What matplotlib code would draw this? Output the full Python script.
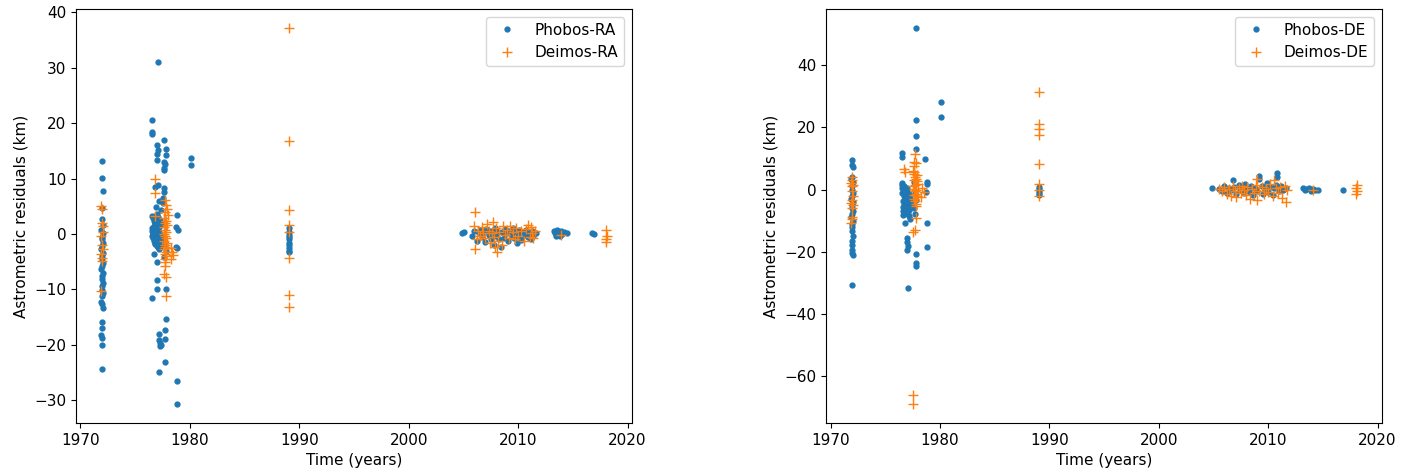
import matplotlib
matplotlib.use('Agg')
import matplotlib.pyplot as plt

# Phobos residuals in right ascension
t_pho_ra = [
    1971.95, 1972.0, 1972.05, 1971.95, 1972.0, 1972.1, 1971.9, 1972.05, 1972.0, 1971.95,
    1972.1, 1972.0, 1971.9, 1972.05, 1972.0, 1971.95, 1972.1, 1972.0, 1971.9, 1972.05,
    1972.0, 1971.95, 1972.1, 1972.0, 1971.95, 1972.05, 1972.0, 1971.9, 1972.0, 1972.05,
    1971.95, 1972.0, 1971.9, 1972.0, 1972.0, 1972.0,
    1977.1, 1976.5, 1976.5, 1976.55, 1977.65, 1977.0, 1977.05, 1977.0, 1977.0, 1977.8,
    1977.8, 1977.6, 1977.75, 1977.6, 1977.65, 1980.1, 1980.1, 1977.1, 1976.8, 1977.6,
    1977.6, 1977.55, 1977.2, 1977.5, 1976.9, 1977.4, 1977.0,
    1976.5, 1976.6, 1976.7, 1976.8, 1976.9, 1977.0, 1977.1, 1977.2, 1977.3, 1976.55,
    1976.65, 1976.75, 1976.85, 1976.95, 1977.05, 1977.15, 1977.25, 1977.35, 1976.6, 1976.7,
    1976.8, 1976.9, 1977.0, 1977.1, 1977.2, 1976.5, 1976.75, 1976.95, 1977.15, 1977.3,
    1977.6, 1977.7, 1977.8, 1977.65, 1977.75,
    1976.55, 1976.65, 1976.75, 1976.85, 1976.95, 1977.05, 1977.15, 1977.25, 1976.6, 1976.7,
    1976.8, 1976.9, 1977.0, 1977.1, 1977.2, 1977.3,
    1978.8, 1978.75, 1978.9, 1978.7, 1978.8, 1976.7, 1977.0, 1977.0, 1977.0, 1976.5,
    1977.8, 1977.8, 1977.7, 1977.2, 1977.2, 1977.3, 1977.35, 1977.25, 1977.7, 1977.7,
    1977.2, 1978.8, 1978.8,
    1989.1, 1989.1, 1989.1, 1989.1, 1989.1, 1989.1, 1989.1, 1989.1, 1989.1, 1989.1,
    2004.9, 2005.1, 2005.8, 2006.0, 2006.2, 2006.4, 2006.5, 2006.7, 2006.9, 2007.0,
    2007.1, 2007.3, 2007.4, 2007.5, 2007.7, 2007.8, 2007.9, 2008.0, 2008.1, 2008.3,
    2008.4, 2008.5, 2008.7, 2008.8, 2009.0, 2009.1, 2009.2, 2009.4, 2009.5, 2009.6,
    2009.8, 2009.9, 2010.0, 2010.1, 2010.2, 2010.3, 2010.4, 2010.6, 2010.7, 2010.9,
    2011.0, 2011.2, 2011.3, 2011.4, 2011.6, 2013.3, 2013.4, 2013.5, 2013.6, 2013.7,
    2013.8, 2013.9, 2014.0, 2014.2, 2014.5, 2016.8, 2016.9,
]
r_pho_ra = [
    13.1, 10.1, 7.8, 4.6, 2.7, 1.6, 0.7, 0.2, -0.5, -1.0,
    -1.7, -2.2, -2.8, -3.5, -4.0, -4.6, -5.3, -5.8, -6.3, -7.0,
    -7.6, -8.2, -8.9, -9.4, -10.1, -10.6, -11.2, -12.2, -12.7, -13.3,
    -15.8, -16.9, -18.2, -18.7, -20.1, -24.3,
    31.1, 20.5, 18.4, 18.1, 17.0, 16.0, 15.1, 14.4, 13.3, 15.3,
    14.2, 12.9, 12.7, 11.5, 11.9, 13.7, 12.5, 8.8, 8.5, 8.3,
    7.5, 6.5, 6.0, 5.5, 4.8, 4.3, 3.6,
    3.2, 2.8, 2.4, 2.0, 1.6, 1.2, 0.8, 0.4, 0.0, -0.4,
    -0.8, -1.2, -1.6, -2.0, -2.4, -2.7, 2.6, 1.8, 1.0, 0.2,
    -0.6, -1.4, -2.2, 3.0, 1.4, 0.6, -0.2, -1.0, -1.8, 2.2,
    -0.5, -1.5, -3.0, -4.2, -2.0,
    1.0, 0.2, -0.6, 2.2, 0.6, -1.2, 1.8, -0.9, 0.0, 1.4,
    -1.8, 2.6, 0.9, -0.3, 1.3, -2.4,
    3.4, 1.3, 0.7, -2.3, -2.6, -3.7, -5.1, -8.3, -9.9, -11.5,
    -9.9, -15.4, -17.3, -18.1, -19.1, -19.6, -20.0, -20.3, -18.9, -23.1,
    -24.9, -26.6, -30.7,
    1.0, 0.3, -0.2, -0.6, -1.0, -1.6, -2.0, -2.5, -3.0, -3.3,
    0.2, 0.4, -0.3, 0.5, -1.2, 0.1, 0.8, -0.6, 0.3, -1.5,
    0.9, -0.2, 0.6, -0.9, 0.2, -2.0, 1.1, -0.4, 0.5, -1.0,
    -2.3, 0.3, -0.7, 0.9, 0.1, -1.3, 0.6, -0.3, 1.0, -0.8,
    0.4, -1.7, 0.0, 0.7, -0.5, -1.1, 0.3, -0.2, 0.8, -0.6,
    0.2, -0.9, 0.5, -0.3, 0.1, 0.6, 0.1, -0.3, 0.8, 0.3,
    -0.4, 0.5, 0.0, 0.4, 0.2, 0.1, 0.0,
]

# Deimos residuals in right ascension
t_dei_ra = [
    1971.9, 1972.0, 1971.95, 1972.05, 1972.1, 1971.9, 1972.0, 1972.05, 1971.9, 1972.0,
    1971.95, 1971.9,
    1976.8, 1976.8, 1977.7, 1977.8, 1977.9, 1977.7, 1978.0, 1976.8, 1977.6, 1977.8,
    1977.7, 1977.9, 1977.6, 1977.75, 1977.85, 1977.65, 1977.7, 1977.8, 1977.6, 1977.9,
    1977.7, 1977.75, 1977.65, 1977.85, 1977.7, 1977.8, 1977.7, 1977.75, 1977.7, 1978.3,
    1978.4, 1978.5, 1978.3, 1977.65, 1977.8, 1977.8,
    1989.1, 1989.1, 1989.1, 1989.1, 1989.1, 1989.1, 1989.1, 1989.1,
    2006.1, 2006.0, 2006.2, 2006.3, 2006.1, 2006.5, 2006.7, 2006.8, 2007.0, 2007.2,
    2007.3, 2007.4, 2007.6, 2007.7, 2007.8, 2007.9, 2008.0, 2008.1, 2008.2, 2008.3,
    2008.5, 2008.6, 2008.8, 2009.0, 2009.2, 2009.3, 2009.5, 2009.7, 2009.8, 2010.0,
    2010.3, 2010.5, 2010.7, 2010.9, 2011.1, 2011.2, 2011.3, 2011.4, 2011.5, 2013.9,
    2018.0, 2018.1, 2018.0, 2018.05,
]
r_dei_ra = [
    5.1, 4.5, 2.0, 1.5, 0.3, -0.4, -2.0, -2.8, -3.6, -4.3,
    -4.8, -10.3,
    10.0, 7.4, 6.2, 5.2, 4.5, 4.0, 3.5, 3.2, 2.8, 2.4,
    2.0, 1.6, 1.2, 0.8, 0.4, 0.0, -0.4, -0.8, -1.2, -1.6,
    -2.0, -2.4, -2.8, -3.2, -3.6, -4.0, -4.5, -5.0, -5.7, -2.5,
    -3.3, -3.8, -4.5, -7.2, -7.7, -11.2,
    37.2, 16.8, 4.3, 1.7, 0.4, -4.4, -11.1, -13.1,
    3.9, 1.5, -1.0, 0.5, -2.8, -0.4, 1.2, 0.2, -0.8, 1.8,
    0.6, -1.6, 0.1, 2.2, -0.5, -2.4, 1.0, -3.2, -1.3, 0.4,
    -2.0, 1.4, -0.2, 0.8, -0.7, 1.5, 0.3, -0.9, 1.1, -0.3,
    0.5, -1.2, 0.9, 1.7, -0.6, 1.3, 0.2, -0.8, 0.6, -0.2,
    0.7, -0.3, -0.9, -1.4,
]

# Phobos residuals in declination
t_pho_de = [
    1972.0, 1971.95, 1972.05, 1972.0, 1971.9, 1972.05, 1972.0, 1971.95, 1972.1, 1972.0,
    1971.9, 1972.05, 1972.0, 1971.95, 1972.1, 1972.0, 1971.9, 1972.05, 1972.0, 1971.95,
    1972.0, 1972.05, 1971.95, 1972.0, 1971.95, 1972.0, 1972.05, 1971.95,
    1977.8, 1980.1, 1980.1, 1977.8, 1977.8, 1977.8, 1978.6, 1976.5, 1976.55, 1978.8,
    1978.85, 1978.7,
    1976.5, 1976.6, 1976.7, 1976.8, 1976.9, 1977.0, 1977.1, 1977.2, 1977.3, 1976.55,
    1976.65, 1976.75, 1976.85, 1976.95, 1977.05, 1977.15, 1977.25, 1977.35, 1976.6, 1976.7,
    1976.8, 1976.9, 1977.0, 1977.1, 1977.2, 1976.5, 1976.75, 1976.95, 1977.15, 1977.3,
    1977.6, 1977.7, 1977.8, 1977.65, 1977.75,
    1976.55, 1976.7, 1976.85, 1977.0, 1977.15, 1976.6, 1976.8, 1976.95, 1977.1, 1977.25,
    1976.6, 1976.6, 1976.8, 1977.0, 1977.0, 1977.05, 1977.0, 1978.8, 1978.8, 1977.8,
    1977.8, 1977.85, 1977.1,
    1989.1, 1989.1, 1989.1, 1989.1, 1989.1,
    2004.9, 2005.5, 2005.8, 2006.0, 2006.2, 2006.4, 2006.6, 2006.8, 2006.9, 2007.1,
    2007.3, 2007.4, 2007.6, 2007.8, 2007.9, 2008.1, 2008.3, 2008.4, 2008.6, 2008.8,
    2009.0, 2009.2, 2009.2, 2009.4, 2009.5, 2009.7, 2009.9, 2010.0, 2010.2, 2010.4,
    2010.5, 2010.7, 2010.8, 2010.8, 2011.0, 2011.2, 2011.4, 2011.6, 2013.2, 2013.4,
    2013.5, 2013.7, 2013.9, 2014.1, 2014.3, 2014.6, 2016.8,
]
r_pho_de = [
    9.5, 7.8, 7.3, 4.0, 3.5, 2.5, 1.0, 0.0, -1.0, -2.0,
    -3.0, -4.0, -5.0, -6.0, -7.0, -8.0, -9.0, -10.0, -11.0, -12.0,
    -13.5, -15.0, -16.5, -18.0, -19.5, -20.5, -21.2, -30.7,
    52.1, 28.1, 23.5, 22.5, 17.2, 13.0, 9.8, 11.7, 10.4, 2.5,
    1.7, -0.7,
    2.0, 1.2, 0.4, -0.4, -1.2, -2.0, -2.8, -3.6, -4.4, 1.6,
    0.8, 0.0, -0.8, -1.6, -2.4, -3.2, -4.0, -5.0, -5.6, -4.8,
    -3.0, -6.2, -7.0, -7.8, -8.6, 0.6, -2.2, -4.6, -6.5, -9.4,
    2.4, -1.0, -3.5, -6.0, -8.0,
    -1.0, 1.0, -2.0, 0.5, -1.4, -3.6, -5.2, -0.2, -4.0, -2.6,
    -6.9, -8.2, -10.7, -15.6, -17.0, -18.3, -19.5, -10.7, -18.6, -20.8,
    -23.7, -24.6, -31.8,
    0.9, 0.2, -0.5, -1.1, -1.8,
    0.5, 0.2, -0.6, 1.0, -1.2, 0.4, -0.3, 3.0, 0.8, -1.5,
    1.4, -0.2, 0.6, -1.0, 1.8, 0.1, -0.8, 1.1, -1.8, 0.5,
    -0.4, 4.4, 3.3, 1.2, -1.3, 0.3, 2.0, -0.7, 0.9, -1.6,
    0.4, 1.5, 5.2, 4.0, -0.5, 1.0, -0.2, 0.6, 0.5, -0.3,
    0.2, 0.6, -0.5, 0.3, 0.0, -0.2, 0.0,
]

# Deimos residuals in declination
t_dei_de = [
    1971.95, 1972.0, 1971.9, 1972.05, 1972.0, 1971.95, 1972.1, 1972.0, 1971.9, 1972.05,
    1972.0, 1971.95, 1972.0, 1971.9,
    1977.7, 1977.6, 1977.6, 1977.6, 1977.8, 1976.7, 1976.8,
    1977.5, 1977.6, 1977.7, 1977.8, 1977.9, 1978.0, 1977.55, 1977.65, 1977.75, 1977.85,
    1977.95, 1977.6, 1977.7, 1977.8, 1977.9, 1977.65, 1977.75, 1977.85, 1977.6, 1977.8,
    1978.3, 1978.4, 1978.5,
    1977.8, 1977.75, 1977.55, 1977.5, 1977.5,
    1989.1, 1989.1, 1989.1, 1989.1, 1989.1, 1989.1, 1989.1, 1989.1,
    2005.5, 2005.8, 2006.0, 2006.2, 2006.4, 2006.6, 2006.8, 2007.0, 2007.1, 2007.3,
    2007.5, 2007.6, 2007.8, 2008.0, 2008.1, 2008.3, 2008.5, 2008.7, 2008.9, 2009.0,
    2009.0, 2009.2, 2009.4, 2009.6, 2009.8, 2010.0, 2010.2, 2010.4, 2010.5, 2010.7,
    2010.9, 2011.1, 2011.3, 2011.5, 2011.6, 2011.7, 2014.1,
    2018.1, 2018.0, 2018.1, 2018.05,
]
r_dei_de = [
    4.0, 3.2, 2.2, 1.5, 1.0, -0.5, -2.0, -3.4, -4.2, -5.0,
    -6.0, -8.8, -9.6, -10.9,
    11.6, 8.9, 7.7, 5.7, 8.4, 6.5, 5.6,
    6.0, 5.0, 4.2, 3.4, 2.6, 1.8, 1.0, 0.2, -0.6, -1.4,
    -2.2, -3.0, -3.8, -4.6, 4.6, 3.0, 1.4, -0.2, -1.8, -5.2,
    -2.3, 0.5, -0.8,
    -9.3, -13.1, -13.6, -66.1, -69.1,
    31.3, 21.0, 19.4, 17.5, 8.2, 1.7, -0.2, -2.1,
    0.3, -0.5, 0.8, -1.3, 0.2, -2.0, 1.0, -0.6, -2.5, 0.5,
    -1.0, 1.3, -0.2, -1.8, 0.7, -3.0, 0.1, -1.2, 1.6, 3.3,
    -3.4, -0.4, 0.9, -1.5, 0.3, -0.9, 1.9, -2.2, 3.0, 0.4,
    -1.1, 0.8, -2.7, 1.2, -4.0, -0.3, -0.2,
    1.6, 0.5, -0.4, -1.3,
]

plt.rcParams['font.size'] = 11

fig, (ax1, ax2) = plt.subplots(1, 2, figsize=(14.15, 4.72), dpi=100)
fig.subplots_adjust(left=0.0537, right=0.9767, top=0.981, bottom=0.104, wspace=0.349)

ax1.plot(t_pho_ra, r_pho_ra, '.', ms=7, label='Phobos-RA')
ax1.plot(t_dei_ra, r_dei_ra, '+', ms=6.5, label='Deimos-RA')
ax1.set_xlabel('Time (years)')
ax1.set_ylabel('Astrometric residuals (km)')
ax1.legend(loc='upper right')

ax2.plot(t_pho_de, r_pho_de, '.', ms=7, label='Phobos-DE')
ax2.plot(t_dei_de, r_dei_de, '+', ms=6.5, label='Deimos-DE')
ax2.set_xlabel('Time (years)')
ax2.set_ylabel('Astrometric residuals (km)')
ax2.legend(loc='upper right')

fig.savefig('out.png', dpi=100)
